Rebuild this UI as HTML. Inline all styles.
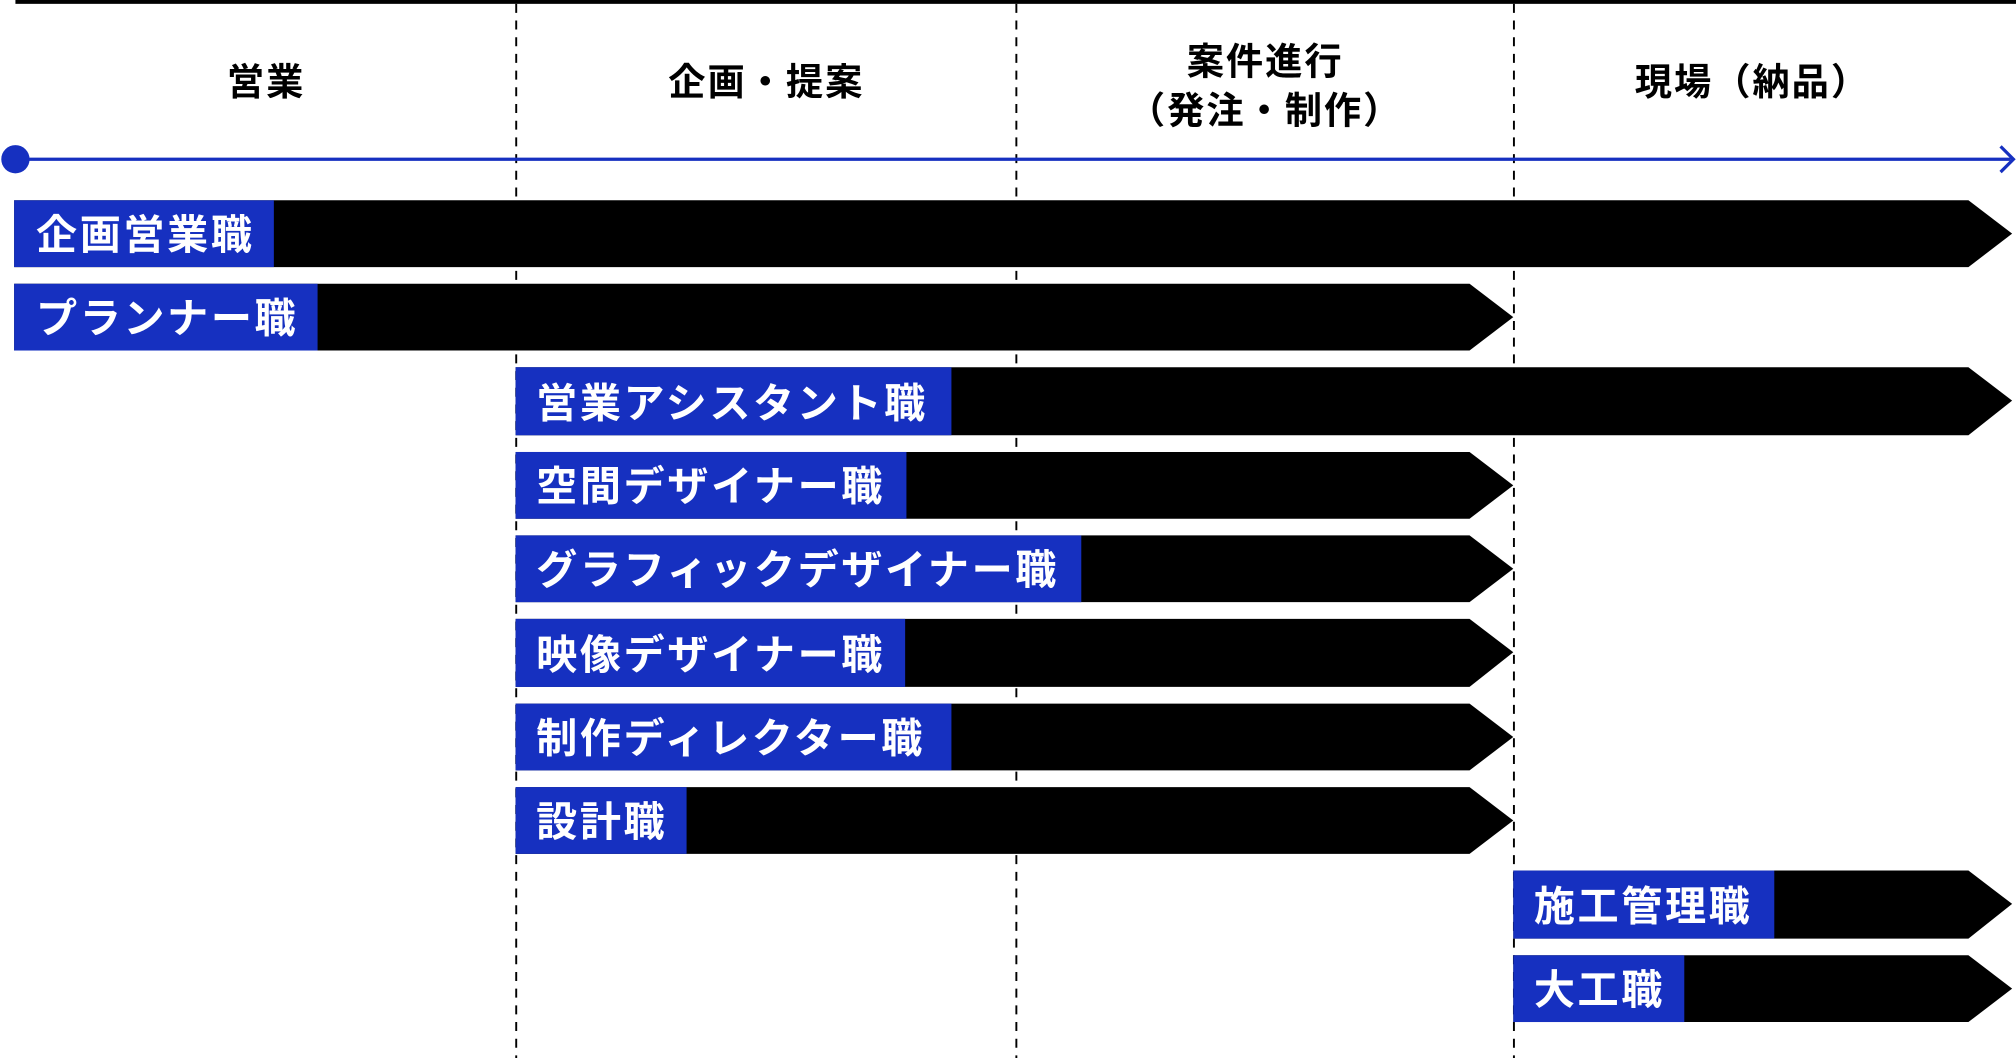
<!DOCTYPE html>
<html><head><meta charset="utf-8"><style>
html,body{margin:0;padding:0;background:#fff;}
svg{display:block;}
text{font-family:"Liberation Sans","Noto Sans CJK JP",sans-serif;font-weight:bold;}
.h{font-size:29px;fill:#000;letter-spacing:1.5px;text-anchor:middle;}
.l{font-size:32px;fill:#fff;letter-spacing:2px;}
</style></head><body>
<svg width="2016" height="1058" viewBox="0 0 1568 824" preserveAspectRatio="none" xmlns="http://www.w3.org/2000/svg">
<rect x="12" y="0" width="1556" height="3" fill="#000"/>
<g stroke="#000" stroke-width="1.5" stroke-dasharray="7,6">
<line x1="401.5" y1="3" x2="401.5" y2="824"/>
<line x1="790.5" y1="3" x2="790.5" y2="824"/>
<line x1="1177.5" y1="3" x2="1177.5" y2="824"/>
</g>
<text class="h" x="207" y="74">営業</text>
<text class="h" x="596" y="74">企画・提案</text>
<text class="h" x="984" y="58">案件進行</text>
<text class="h" x="984" y="96">（発注・制作）</text>
<text class="h" x="1363" y="74">現場（納品）</text>
<line x1="12" y1="124" x2="1564" y2="124" stroke="#1630c0" stroke-width="2.5"/>
<circle cx="12" cy="124" r="11" fill="#1630c0"/>
<polyline points="1556,114 1566,124 1556,134" fill="none" stroke="#1630c0" stroke-width="2.5"/>
<g fill="#000">
<polygon points="11,156 1531,156 1565,182 1531,208 11,208"/>
<polygon points="11,221 1143,221 1177,247 1143,273 11,273"/>
<polygon points="401,286 1531,286 1565,312 1531,339 401,339"/>
<polygon points="401,352 1143,352 1177,378 1143,404 401,404"/>
<polygon points="401,417 1143,417 1177,443 1143,469 401,469"/>
<polygon points="401,482 1143,482 1177,508 1143,535 401,535"/>
<polygon points="401,548 1143,548 1177,574 1143,600 401,600"/>
<polygon points="401,613 1143,613 1177,639 1143,665 401,665"/>
<polygon points="1177,678 1531,678 1565,704 1531,731 1177,731"/>
<polygon points="1177,744 1531,744 1565,770 1531,796 1177,796"/>
</g>
<g fill="#1630c0">
<rect x="11" y="156" width="202" height="52"/>
<rect x="11" y="221" width="236" height="52"/>
<rect x="401" y="286" width="339" height="53"/>
<rect x="401" y="352" width="304" height="52"/>
<rect x="401" y="417" width="440" height="52"/>
<rect x="401" y="482" width="303" height="53"/>
<rect x="401" y="548" width="339" height="52"/>
<rect x="401" y="613" width="133" height="52"/>
<rect x="1177" y="678" width="203" height="53"/>
<rect x="1177" y="744" width="133" height="52"/>
</g>
<text class="l" x="28" y="194">企画営業職</text>
<text class="l" x="28" y="259">プランナー職</text>
<text class="l" x="417" y="325">営業アシスタント職</text>
<text class="l" x="417" y="390">空間デザイナー職</text>
<text class="l" x="417" y="455">グラフィックデザイナー職</text>
<text class="l" x="417" y="521">映像デザイナー職</text>
<text class="l" x="417" y="586">制作ディレクター職</text>
<text class="l" x="417" y="651">設計職</text>
<text class="l" x="1193" y="717">施工管理職</text>
<text class="l" x="1193" y="782">大工職</text>
</svg>
</body></html>
